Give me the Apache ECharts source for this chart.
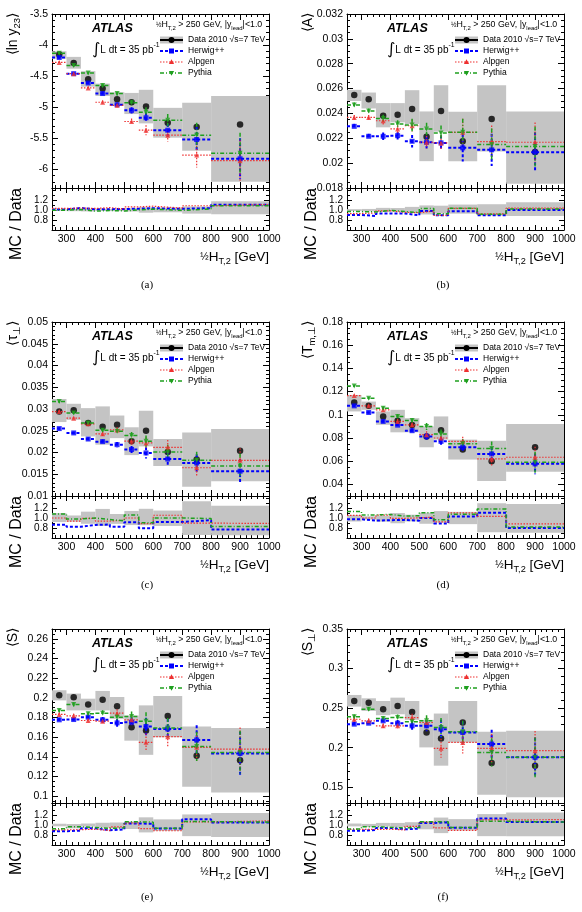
<!DOCTYPE html>
<html>
<head>
<meta charset="utf-8">
<script src="https://cdn.jsdelivr.net/npm/echarts@6/dist/echarts.min.js"></script>
<style>
  html, body { margin: 0; padding: 0; background: #fff; }
  #main { width: 582px; height: 912px; }
</style>
</head>
<body>
<div id="main"></div>
<script>
// bins of 1/2 HT,2 [GeV]
const binLo  = [250, 300, 350, 400, 450, 500, 550, 600, 700, 800];
const binHi  = [300, 350, 400, 450, 500, 550, 600, 700, 800, 1000];
const binMid = [275, 325, 375, 425, 475, 525, 575, 650, 750, 900];
const xTicks = [300, 400, 500, 600, 700, 800, 900, 1000];
const ratioTicks = [0.8, 1.0, 1.2];

// (a) <ln y23>
const aData   = [-4.15, -4.29, -4.55, -4.70, -4.87, -4.92, -4.99, -5.25, -5.32, -5.28];
const aBoxLo  = [-4.22, -4.38, -4.67, -4.82, -4.97, -5.11, -5.26, -5.49, -5.70, -6.20];
const aBoxHi  = [-4.10, -4.19, -4.42, -4.62, -4.76, -4.77, -4.72, -5.01, -4.93, -4.82];
const aHerwig = [-4.20, -4.46, -4.61, -4.78, -4.96, -5.05, -5.17, -5.37, -5.52, -5.83];
const aAlpgen = [-4.28, -4.46, -4.69, -4.92, -4.97, -5.23, -5.37, -5.45, -5.77, -5.86];
const aPythia = [-4.13, -4.33, -4.45, -4.65, -4.78, -4.93, -5.08, -5.21, -5.45, -5.74];
const aMcErr  = [0.02, 0.02, 0.02, 0.03, 0.03, 0.05, 0.08, 0.10, 0.20, 0.33];
const aTicks  = [-6, -5.5, -5, -4.5, -4, -3.5];

// (b) <A>
const bData   = [0.02549, 0.02515, 0.02381, 0.02389, 0.02435, 0.02213, 0.02419, 0.02176, 0.02355, 0.02090];
const bBoxLo  = [0.02500, 0.02440, 0.02288, 0.02328, 0.02315, 0.02016, 0.02253, 0.02016, 0.02093, 0.01835];
const bBoxHi  = [0.02590, 0.02568, 0.02483, 0.02483, 0.02587, 0.02416, 0.02627, 0.02413, 0.02627, 0.02416];
const bHerwig = [0.02296, 0.02216, 0.02216, 0.02221, 0.02176, 0.02168, 0.02163, 0.02123, 0.02107, 0.02088];
const bAlpgen = [0.02368, 0.02368, 0.02341, 0.02275, 0.02301, 0.02168, 0.02163, 0.02248, 0.02173, 0.02168];
const bPythia = [0.02467, 0.02419, 0.02360, 0.02315, 0.02307, 0.02275, 0.02243, 0.02248, 0.02149, 0.02133];
const bMcErr  = [0.0002, 0.0002, 0.0003, 0.0003, 0.0005, 0.0005, 0.0006, 0.0011, 0.0013, 0.0016];
const bTicks  = [0.018, 0.02, 0.022, 0.024, 0.026, 0.028, 0.03, 0.032];

// (c) <tau_perp>
const cData   = [0.0294, 0.0297, 0.0268, 0.0259, 0.0264, 0.0226, 0.0250, 0.0201, 0.0184, 0.0204];
const cBoxLo  = [0.0270, 0.0275, 0.0237, 0.0218, 0.0233, 0.0194, 0.0214, 0.0169, 0.0121, 0.0134];
const cBoxHi  = [0.0323, 0.0312, 0.0302, 0.0306, 0.0285, 0.0258, 0.0296, 0.0231, 0.0246, 0.0254];
const cHerwig = [0.0255, 0.0245, 0.0231, 0.0225, 0.0218, 0.0207, 0.0199, 0.0185, 0.0176, 0.0157];
const cAlpgen = [0.0294, 0.0279, 0.0266, 0.0243, 0.0252, 0.0226, 0.0222, 0.0212, 0.0165, 0.0182];
const cPythia = [0.0317, 0.0291, 0.0268, 0.0251, 0.0249, 0.0239, 0.0226, 0.0201, 0.0182, 0.0169];
const cMcErr  = [0.0003, 0.0003, 0.0004, 0.0005, 0.0006, 0.0008, 0.0013, 0.0017, 0.0020, 0.0028];
const cTicks  = [0.01, 0.015, 0.02, 0.025, 0.03, 0.035, 0.04, 0.045, 0.05];

// (d) <T_m,perp>
const dData   = [0.1106, 0.1077, 0.0986, 0.0949, 0.0911, 0.0814, 0.0866, 0.0700, 0.0600, 0.0720];
const dBoxLo  = [0.1029, 0.1043, 0.0914, 0.0849, 0.0849, 0.0720, 0.0786, 0.0614, 0.0429, 0.0509];
const dBoxHi  = [0.1171, 0.1114, 0.1029, 0.1043, 0.0971, 0.0900, 0.0986, 0.0786, 0.0777, 0.0920];
const dHerwig = [0.1077, 0.1020, 0.0943, 0.0911, 0.0863, 0.0814, 0.0771, 0.0720, 0.0663, 0.0577];
const dAlpgen = [0.1166, 0.1077, 0.1043, 0.0943, 0.0914, 0.0829, 0.0800, 0.0771, 0.0620, 0.0634];
const dPythia = [0.1249, 0.1143, 0.1057, 0.0986, 0.0951, 0.0900, 0.0834, 0.0751, 0.0709, 0.0591];
const dMcErr  = [0.001, 0.001, 0.0015, 0.002, 0.002, 0.003, 0.004, 0.004, 0.006, 0.009];
const dTicks  = [0.04, 0.06, 0.08, 0.1, 0.12, 0.14, 0.16, 0.18];

// (e) <S>
const eData   = [0.2026, 0.2005, 0.1933, 0.1981, 0.1913, 0.1701, 0.1667, 0.1814, 0.1410, 0.1366];
const eBoxLo  = [0.1974, 0.1872, 0.1872, 0.1872, 0.1786, 0.1564, 0.1420, 0.1600, 0.1096, 0.1037];
const eBoxHi  = [0.2077, 0.2043, 0.1991, 0.2070, 0.2008, 0.1820, 0.1923, 0.2019, 0.1708, 0.1694];
const eHerwig = [0.1776, 0.1779, 0.1803, 0.1776, 0.1745, 0.1752, 0.1708, 0.1684, 0.1571, 0.1434];
const eAlpgen = [0.1831, 0.1817, 0.1769, 0.1762, 0.1844, 0.1776, 0.1547, 0.1605, 0.1496, 0.1479];
const ePythia = [0.1872, 0.1933, 0.1838, 0.1844, 0.1803, 0.1810, 0.1762, 0.1694, 0.1506, 0.1444];
const eMcErr  = [0.002, 0.002, 0.002, 0.003, 0.004, 0.005, 0.009, 0.010, 0.015, 0.022];
const eTicks  = [0.1, 0.12, 0.14, 0.16, 0.18, 0.2, 0.22, 0.24, 0.26];

// (f) <S_perp>
const fData   = [0.2590, 0.2569, 0.2485, 0.2527, 0.2452, 0.2192, 0.2116, 0.2318, 0.1806, 0.1772];
const fBoxLo  = [0.2519, 0.2464, 0.2410, 0.2422, 0.2351, 0.2003, 0.1772, 0.2066, 0.1403, 0.1374];
const fBoxHi  = [0.2666, 0.2624, 0.2590, 0.2632, 0.2590, 0.2351, 0.2431, 0.2590, 0.2200, 0.2213];
const fHerwig = [0.2297, 0.2309, 0.2339, 0.2309, 0.2276, 0.2276, 0.2234, 0.2192, 0.2045, 0.1877];
const fAlpgen = [0.2359, 0.2339, 0.2276, 0.2276, 0.2380, 0.2318, 0.1991, 0.2066, 0.1991, 0.1961];
const fPythia = [0.2389, 0.2485, 0.2368, 0.2380, 0.2326, 0.2339, 0.2255, 0.2200, 0.1940, 0.1877];
const fMcErr  = [0.003, 0.003, 0.003, 0.004, 0.005, 0.007, 0.012, 0.014, 0.018, 0.025];
const fTicks  = [0.15, 0.2, 0.25, 0.3, 0.35];

const FONT = '"Liberation Sans", Arial, Helvetica, sans-serif';
const GRAY = '#c4c4c4';
const W = 217, MAIN_H = 174, RATIO_H = 42;
const RATIO_MIN = 0.6, RATIO_MAX = 1.44;

const mcStyles = {
  herwig: { color: '#0000ff', dash: [3, 2], width: 2, symbol: 'rect', size: 5, rotate: 0 },
  alpgen: { color: '#ee3030', dash: [1.5, 1.5], width: 1.2, symbol: 'triangle', size: 5, rotate: 0 },
  pythia: { color: '#1fa01f', dash: [4, 2, 1, 2], width: 1.5, symbol: 'triangle', size: 5, rotate: 180 }
};

const panels = [
  { tag: '(a)', L: 52,  T: 14,  labX: 147, labY: 285, data: aData, lo: aBoxLo, hi: aBoxHi,
    mc: { herwig: aHerwig, alpgen: aAlpgen, pythia: aPythia }, err: aMcErr,
    min: -6.3, max: -3.5, ticks: aTicks, minor: 0.1, title: '⟨ln y{sub|23}⟩' },
  { tag: '(b)', L: 347, T: 14,  labX: 443, labY: 285, data: bData, lo: bBoxLo, hi: bBoxHi,
    mc: { herwig: bHerwig, alpgen: bAlpgen, pythia: bPythia }, err: bMcErr,
    min: 0.018, max: 0.032, ticks: bTicks, minor: 0.0005, title: '⟨A⟩' },
  { tag: '(c)', L: 52,  T: 322, labX: 147, labY: 585, data: cData, lo: cBoxLo, hi: cBoxHi,
    mc: { herwig: cHerwig, alpgen: cAlpgen, pythia: cPythia }, err: cMcErr,
    min: 0.01, max: 0.05, ticks: cTicks, minor: 0.001, title: '⟨τ{sub|⊥}⟩' },
  { tag: '(d)', L: 347, T: 322, labX: 443, labY: 585, data: dData, lo: dBoxLo, hi: dBoxHi,
    mc: { herwig: dHerwig, alpgen: dAlpgen, pythia: dPythia }, err: dMcErr,
    min: 0.03, max: 0.18, ticks: dTicks, minor: 0.005, title: '⟨T{sub|m,⊥}⟩' },
  { tag: '(e)', L: 52,  T: 629, labX: 147, labY: 897, data: eData, lo: eBoxLo, hi: eBoxHi,
    mc: { herwig: eHerwig, alpgen: eAlpgen, pythia: ePythia }, err: eMcErr,
    min: 0.093, max: 0.27, ticks: eTicks, minor: 0.005, title: '⟨S⟩' },
  { tag: '(f)', L: 347, T: 629, labX: 443, labY: 897, data: fData, lo: fBoxLo, hi: fBoxHi,
    mc: { herwig: fHerwig, alpgen: fAlpgen, pythia: fPythia }, err: fMcErr,
    min: 0.13, max: 0.35, ticks: fTicks, minor: 0.01, title: '⟨S{sub|⊥}⟩' }
];

function minorsOf(min, max, step) {
  const out = [];
  const n0 = Math.ceil(min / step - 1e-6), n1 = Math.floor(max / step + 1e-6);
  for (let n = n0; n <= n1; n++) out.push(+(n * step).toFixed(6));
  return out;
}

// major + minor tick axes on both sides of a grid (ROOT style frame)
function makeAxes(kind, gridIndex, min, max, majors, minors, o) {
  const sides = kind === 'x' ? ['bottom', 'top'] : ['left', 'right'];
  const out = [];
  sides.forEach((pos, k) => {
    out.push({
      type: 'value', gridIndex, position: pos, min, max,
      axisLine: { show: true, onZero: false, lineStyle: { color: '#000', width: 1 } },
      axisTick: { show: true, inside: true, length: o.major, customValues: majors, lineStyle: { color: '#000', width: 1 } },
      axisLabel: { show: k === 0 && o.labels, customValues: majors, formatter: o.fmt, hideOverlap: false,
                   color: '#000', fontFamily: FONT, fontSize: o.size || 10.5, margin: o.margin },
      splitLine: { show: false }, minorTick: { show: false }
    });
    out.push({
      type: 'value', gridIndex, position: pos, min, max,
      axisLine: { show: false, onZero: false },
      axisTick: { show: true, inside: true, length: o.minor, customValues: minors, lineStyle: { color: '#000', width: 1 } },
      axisLabel: { show: false }, splitLine: { show: false }
    });
  });
  return out;
}

function clipRect(params, shape) {
  const cs = params.coordSys;
  return echarts.graphic.clipRectByRect(shape, { x: cs.x, y: cs.y, width: cs.width, height: cs.height });
}

function boxRender(params, api) {
  const p1 = api.coord([api.value(0), api.value(3)]);
  const p2 = api.coord([api.value(1), api.value(2)]);
  const shape = clipRect(params, { x: p1[0], y: p1[1], width: p2[0] - p1[0], height: p2[1] - p1[1] });
  return shape && { type: 'rect', shape, style: { fill: GRAY } };
}

function mcRender(st) {
  return function (params, api) {
    const v = api.value(3), e = api.value(4), mid = api.value(2);
    const a = api.coord([api.value(0), v]), b = api.coord([api.value(1), v]);
    const t = api.coord([mid, v + e]), u = api.coord([mid, v - e]);
    const style = { stroke: st.color, lineWidth: st.width, lineDash: st.dash, fill: null };
    return { type: 'group', children: [
      { type: 'line', shape: { x1: a[0], y1: a[1], x2: b[0], y2: b[1] }, style },
      { type: 'line', shape: { x1: t[0], y1: t[1], x2: u[0], y2: u[1] }, style }
    ] };
  };
}

const grids = [], xAxes = [], yAxes = [], series = [], graphics = [];
const xMinors = minorsOf(250, 1000, 20);
const ratioMinors = minorsOf(RATIO_MIN, RATIO_MAX, 0.1);

function richSet(size) {
  return {
    sub: { fontSize: size * 0.68, lineHeight: size * 0.68, verticalAlign: 'bottom', fontFamily: FONT, fill: '#000' },
    sup: { fontSize: size * 0.68, lineHeight: size * 0.68, verticalAlign: 'top', fontFamily: FONT, fill: '#000' },
    half: { fontSize: size * 0.75, lineHeight: size * 0.75, fontFamily: FONT, fill: '#000' },
    int: { fontSize: size * 1.6, lineHeight: size * 1.6, fontFamily: '"DejaVu Sans", sans-serif', fill: '#000' }
  };
}
function txt(x, y, text, size, extra) {
  return Object.assign({
    type: 'text', x, y, silent: true,
    style: Object.assign({ text, fontSize: size, lineHeight: size * 1.35, fontFamily: FONT, fill: '#000',
      align: 'left', verticalAlign: 'middle', rich: richSet(size) }, extra && extra.style)
  }, extra && extra.el);
}

panels.forEach((p, i) => {
  const gm = 2 * i, gr = 2 * i + 1;
  grids.push({ left: p.L, top: p.T, width: W, height: MAIN_H, outerBoundsMode: 'none' });
  grids.push({ left: p.L, top: p.T + MAIN_H, width: W, height: RATIO_H, outerBoundsMode: 'none' });

  xAxes.push(...makeAxes('x', gm, 250, 1000, xTicks, xMinors, { labels: false, major: 6, minor: 3 }));
  xAxes.push(...makeAxes('x', gr, 250, 1000, xTicks, xMinors,
    { labels: true, major: 5, minor: 3, margin: 4, fmt: v => String(v) }));
  yAxes.push(...makeAxes('y', gm, p.min, p.max, p.ticks, minorsOf(p.min, p.max, p.minor),
    { labels: true, major: 6, minor: 3, margin: 4, fmt: v => String(+(+v).toFixed(5)) }));
  yAxes.push(...makeAxes('y', gr, RATIO_MIN, RATIO_MAX, ratioTicks, ratioMinors,
    { labels: true, major: 5, minor: 3, margin: 4, size: 10, fmt: v => (+v).toFixed(1) }));

  const mAx = { xAxisIndex: 4 * gm, yAxisIndex: 4 * gm };
  const rAx = { xAxisIndex: 4 * gr, yAxisIndex: 4 * gr };

  // data systematic boxes
  series.push(Object.assign({
    type: 'custom', z: 1, silent: true, renderItem: boxRender,
    data: p.data.map((d, k) => [binLo[k], binHi[k], p.lo[k], p.hi[k]])
  }, mAx));
  // data points
  series.push(Object.assign({
    type: 'scatter', z: 2, silent: true, symbol: 'circle', symbolSize: 6.5,
    itemStyle: { color: '#000' }, data: p.data.map((d, k) => [binMid[k], d])
  }, mAx));
  // ratio band
  series.push(Object.assign({
    type: 'custom', z: 1, silent: true, renderItem: boxRender,
    data: p.data.map((d, k) => {
      const r1 = p.lo[k] / d, r2 = p.hi[k] / d;
      return [binLo[k], binHi[k], Math.min(r1, r2), Math.max(r1, r2)];
    })
  }, rAx));

  Object.keys(mcStyles).forEach(name => {
    const st = mcStyles[name], vals = p.mc[name];
    series.push(Object.assign({
      type: 'custom', z: 3, silent: true, renderItem: mcRender(st),
      data: vals.map((v, k) => [binLo[k], binHi[k], binMid[k], v, p.err[k]])
    }, mAx));
    series.push(Object.assign({
      type: 'scatter', z: 4, silent: true, symbol: st.symbol, symbolSize: st.size, symbolRotate: st.rotate,
      itemStyle: { color: st.color }, data: vals.map((v, k) => [binMid[k], v])
    }, mAx));
    const step = [];
    vals.forEach((v, k) => { step.push([binLo[k], v / p.data[k]], [binHi[k], v / p.data[k]]); });
    series.push(Object.assign({
      type: 'line', z: 3, silent: true, symbol: 'none', data: step,
      lineStyle: { color: st.color, width: st.width, type: st.dash }
    }, rAx));
  });

  // texts
  const L = p.L, T = p.T;
  graphics.push(txt(L + 40, T + 15, 'ATLAS', 12.5, { style: { fontWeight: 'bold', fontStyle: 'italic' } }));
  graphics.push(txt(L + 104, T + 11, '{half|½}H{sub|T,2} > 250 GeV, |y{sub|lead}|<1.0', 8.8));
  graphics.push(txt(L + 40, T + 36, '{int|∫}L dt = 35 pb{sup|-1}', 10));
  const ly = [26, 37, 48, 59];
  const leg = ['Data 2010 √s=7 TeV', 'Herwig++', 'Alpgen', 'Pythia'];
  leg.forEach((s, k) => graphics.push(txt(L + 136, T + ly[k], s, 8.5)));
  const x0 = L + 108, x1 = L + 131, xc = (x0 + x1) / 2;
  graphics.push({ type: 'rect', silent: true, shape: { x: x0, y: T + ly[0] - 3.5, width: x1 - x0, height: 7 }, style: { fill: GRAY } });
  graphics.push({ type: 'line', silent: true, shape: { x1: x0, y1: T + ly[0], x2: x1, y2: T + ly[0] }, style: { stroke: '#000', lineWidth: 2 } });
  graphics.push({ type: 'circle', silent: true, shape: { cx: xc, cy: T + ly[0], r: 3 }, style: { fill: '#000' } });
  ['herwig', 'alpgen', 'pythia'].forEach((name, k) => {
    const st = mcStyles[name], y = T + ly[k + 1];
    graphics.push({ type: 'line', silent: true, shape: { x1: x0, y1: y, x2: x1, y2: y },
      style: { stroke: st.color, lineWidth: st.width, lineDash: st.dash } });
    let pts;
    if (name === 'herwig') pts = [[xc - 2.5, y - 2.5], [xc + 2.5, y - 2.5], [xc + 2.5, y + 2.5], [xc - 2.5, y + 2.5]];
    else if (name === 'alpgen') pts = [[xc, y - 2.8], [xc + 2.6, y + 2], [xc - 2.6, y + 2]];
    else pts = [[xc, y + 2.8], [xc + 2.6, y - 2], [xc - 2.6, y - 2]];
    graphics.push({ type: 'polygon', silent: true, shape: { points: pts }, style: { fill: st.color } });
  });

  // axis titles
  graphics.push(txt(L - 39, T - 1, p.title, 14, { style: { align: 'right' }, el: { rotation: Math.PI / 2 } }));
  graphics.push(txt(L - 35, T + MAIN_H, 'MC / Data', 16, { style: { align: 'right' }, el: { rotation: Math.PI / 2 } }));
  graphics.push(txt(L + W, T + MAIN_H + RATIO_H + 27, '{half|½}H{sub|T,2} [GeV]', 13.5, { style: { align: 'right' } }));
  graphics.push(txt(p.labX, p.labY, p.tag, 11, { style: { align: 'center', fontFamily: '"Liberation Serif", "Times New Roman", serif' } }));
});

const chart = echarts.init(document.getElementById('main'));
chart.setOption({
  animation: false,
  backgroundColor: '#fff',
  grid: grids,
  xAxis: xAxes,
  yAxis: yAxes,
  series: series,
  graphic: { elements: graphics }
});
</script>
</body>
</html>
